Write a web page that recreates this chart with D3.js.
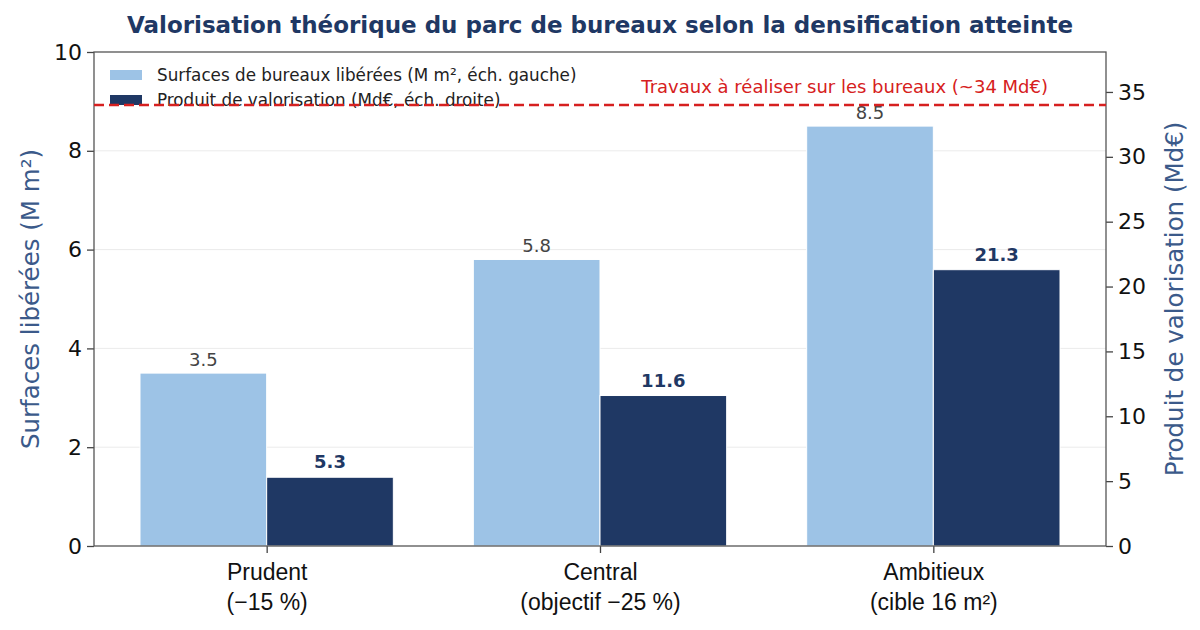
<!DOCTYPE html>
<html><head><meta charset="utf-8">
<script src="https://cdn.jsdelivr.net/npm/d3@7"></script>
<style>body{margin:0;background:#fff;} svg{display:block;font-family:"DejaVu Sans",sans-serif;}</style>
</head><body>
<svg id="c" width="1200" height="630"></svg>
<script>
const categories = ["Prudent\n(\u221215 %)", "Central\n(objectif \u221225 %)", "Ambitieux\n(cible 16 m\u00b2)"];
const surfaces = [3.5, 5.8, 8.5];
const valorisation = [5.3, 11.6, 21.3];
const travaux = 34;
const leftTicks = [0, 2, 4, 6, 8, 10];
const rightTicks = [0, 5, 10, 15, 20, 25, 30, 35];

const svg = d3.select("#c");
const m = {l: 94, r: 1106, t: 52, b: 546};
const light = "#9dc3e6", dark = "#1f3864", labelCol = "#3b5a8a";

const bw = 0.38;
const span = (categories.length - 1) + 2 * bw, pad = 0.05 * span;
const x = d3.scaleLinear().domain([-bw - pad, categories.length - 1 + bw + pad]).range([m.l, m.r]);
const yL = d3.scaleLinear().domain([0, 10]).range([m.b, m.t]);
const yR = d3.scaleLinear().domain([0, travaux * 1.12]).range([m.b, m.t]);

// grid
svg.append("g").selectAll("line").data(leftTicks.filter(d => d > 0 && d < 10)).join("line")
  .attr("x1", m.l).attr("x2", m.r).attr("y1", d => yL(d)).attr("y2", d => yL(d))
  .attr("stroke", "#ebebeb").attr("stroke-width", 1);

// bars
svg.append("g").selectAll("rect").data(surfaces).join("rect")
  .attr("x", (d, i) => x(i - bw)).attr("width", x(bw) - x(0))
  .attr("y", d => yL(d)).attr("height", d => yL(0) - yL(d))
  .attr("fill", light).attr("stroke", "#fff").attr("stroke-width", 1);
svg.append("g").selectAll("rect").data(valorisation).join("rect")
  .attr("x", (d, i) => x(i)).attr("width", x(bw) - x(0))
  .attr("y", d => yR(d)).attr("height", d => yR(0) - yR(d))
  .attr("fill", dark).attr("stroke", "#fff").attr("stroke-width", 1);

// value labels
svg.append("g").selectAll("text").data(surfaces).join("text")
  .attr("x", (d, i) => x(i - bw / 2)).attr("y", d => yL(d) - 7)
  .attr("text-anchor", "middle").attr("font-size", 18).attr("fill", "#444")
  .text(d => d.toFixed(1));
svg.append("g").selectAll("text").data(valorisation).join("text")
  .attr("x", (d, i) => x(i + bw / 2)).attr("y", d => yR(d) - 9)
  .attr("text-anchor", "middle").attr("font-size", 18).attr("font-weight", "bold").attr("fill", dark)
  .text(d => d.toFixed(1));

// axes
const axL = svg.append("g").attr("transform", `translate(${m.l},0)`)
  .call(d3.axisLeft(yL).tickValues(leftTicks).tickSize(7).tickPadding(5).tickFormat(d3.format("d")));
const axR = svg.append("g").attr("transform", `translate(${m.r},0)`)
  .call(d3.axisRight(yR).tickValues(rightTicks).tickSize(7).tickPadding(5).tickFormat(d3.format("d")));
const axB = svg.append("g").attr("transform", `translate(0,${m.b})`)
  .call(d3.axisBottom(x).tickValues(d3.range(categories.length)).tickSize(7).tickFormat(() => ""));
[axL, axR, axB].forEach(a => {
  a.select(".domain").remove();
  a.selectAll("line").attr("stroke", "#444").attr("stroke-width", 1.3);
  a.selectAll("text").attr("font-size", 22).attr("fill", "#111").attr("font-family", "DejaVu Sans");
});
axB.selectAll(".tick").each(function(d) {
  const t = d3.select(this).append("text").attr("text-anchor", "middle").attr("font-size", 23).attr("fill", "#111");
  categories[d].split("\n").forEach((s, k) => t.append("tspan").attr("x", 0).attr("y", 34 + k * 30).text(s));
});
// frame
svg.append("rect").attr("x", m.l).attr("y", m.t).attr("width", m.r - m.l).attr("height", m.b - m.t)
  .attr("fill", "none").attr("stroke", "#555").attr("stroke-width", 1.3);

// legend
const lg = svg.append("g");
[[light, "Surfaces de bureaux lib\u00e9r\u00e9es (M m\u00b2, \u00e9ch. gauche)"], [dark, "Produit de valorisation (Md\u20ac, \u00e9ch. droite)"]]
.forEach(([c, t], k) => {
  lg.append("rect").attr("x", 110).attr("y", 70 + k * 25).attr("width", 32).attr("height", 10).attr("fill", c);
  lg.append("text").attr("x", 157).attr("y", 81 + k * 25).attr("font-size", 16.8).attr("fill", "#222").text(t);
});

// reference line
svg.append("line").attr("x1", m.l).attr("x2", m.r).attr("y1", yR(travaux)).attr("y2", yR(travaux))
  .attr("stroke", "#d62020").attr("stroke-width", 2.6).attr("stroke-dasharray", "10,5");
svg.append("text").attr("x", 1048).attr("y", 93).attr("text-anchor", "end").attr("font-size", 18)
  .attr("fill", "#d62020").text("Travaux \u00e0 r\u00e9aliser sur les bureaux (~34 Md\u20ac)");

// titles
svg.append("text").attr("x", 600).attr("y", 33).attr("text-anchor", "middle").attr("font-size", 23)
  .attr("font-weight", "bold").attr("fill", dark).text("Valorisation th\u00e9orique du parc de bureaux selon la densification atteinte");
svg.append("text").attr("transform", `translate(39,${(m.t + m.b) / 2}) rotate(-90)`).attr("text-anchor", "middle")
  .attr("font-size", 24.5).attr("fill", labelCol).text("Surfaces lib\u00e9r\u00e9es (M m\u00b2)");
svg.append("text").attr("transform", `translate(1183,${(m.t + m.b) / 2}) rotate(-90)`).attr("text-anchor", "middle")
  .attr("font-size", 24.5).attr("fill", labelCol).text("Produit de valorisation (Md\u20ac)");
</script>
</body></html>
